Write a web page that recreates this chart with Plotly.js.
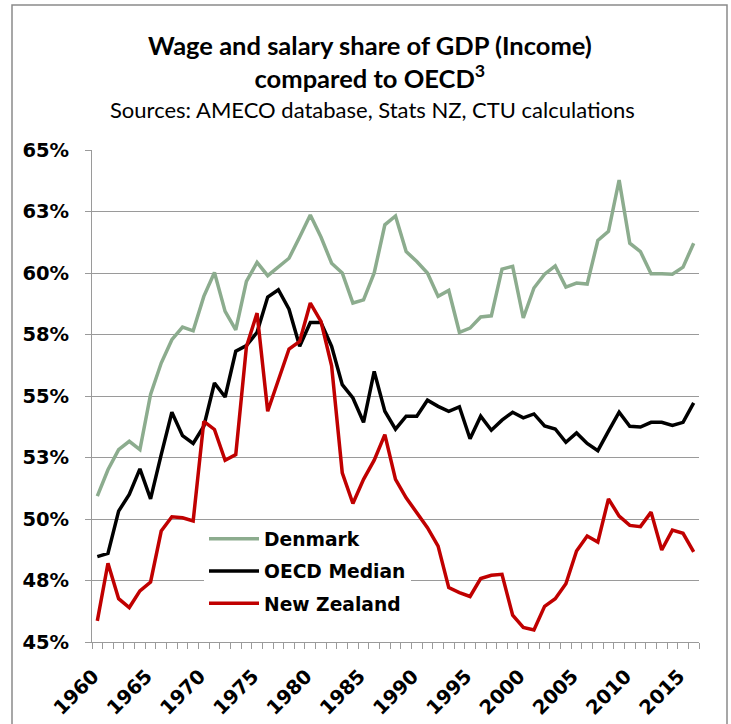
<!DOCTYPE html>
<html>
<head>
<meta charset="utf-8">
<script src="https://cdn.plot.ly/plotly-3.0.1.min.js"></script>
<style>html,body{margin:0;padding:0;background:#fff;}#chart{width:731px;height:724px;}</style>
</head>
<body>
<div id="chart"></div>
<script>
const years = [1960,1961,1962,1963,1964,1965,1966,1967,1968,1969,
  1970,1971,1972,1973,1974,1975,1976,1977,1978,1979,
  1980,1981,1982,1983,1984,1985,1986,1987,1988,1989,
  1990,1991,1992,1993,1994,1995,1996,1997,1998,1999,
  2000,2001,2002,2003,2004,2005,2006,2007,2008,2009,
  2010,2011,2012,2013,2014,2015,2016];

const denmark = [50.93,52.0,52.82,53.16,52.82,55.06,56.34,57.29,57.80,57.65,
  59.05,60.02,58.44,57.69,59.66,60.43,59.89,60.24,60.60,61.46,
  62.36,61.46,60.40,60.0,58.78,58.91,60.0,61.96,62.32,60.87,
  60.47,60.0,59.05,59.29,57.59,57.76,58.21,58.26,60.16,60.27,
  58.17,59.39,59.95,60.29,59.43,59.59,59.55,61.32,61.69,63.78,
  61.21,60.87,59.97,59.97,59.95,60.24,61.21];

const oecdMedian = [48.47,48.6,50.32,51.0,52.04,50.82,52.62,54.34,53.39,53.07,
  53.77,55.53,54.96,56.82,57.05,57.59,59.02,59.32,58.53,57.02,
  57.99,57.99,57.02,55.46,54.92,53.93,56.0,54.38,53.65,54.18,
  54.18,54.83,54.58,54.38,54.56,53.26,54.18,53.61,54.02,54.34,
  54.11,54.27,53.78,53.66,53.12,53.5,53.07,52.78,53.57,54.34,
  53.77,53.74,53.93,53.93,53.8,53.93,54.72];

const newZealand = [45.86,48.2,46.76,46.4,47.08,47.44,49.51,50.09,50.05,49.92,
  53.97,53.64,52.39,52.62,57.0,58.37,54.38,55.67,56.91,57.22,
  58.78,58.03,56.23,51.88,50.63,51.61,52.39,53.43,51.61,50.86,
  50.25,49.65,48.9,47.21,47.01,46.85,47.58,47.71,47.75,46.09,
  45.59,45.49,46.45,46.76,47.37,48.7,49.31,49.06,50.82,50.12,
  49.74,49.69,50.28,48.74,49.55,49.42,48.66];

const xTickLabels = [1960,1965,1970,1975,1980,1985,1990,1995,2000,2005,2010,2015];
const yTicks = [45,47.5,50,52.5,55,57.5,60,62.5,65];

const seriesNames = ['Denmark','OECD Median','New Zealand'];
const seriesColors = ['#8cac8e','#000000','#c00000'];
const seriesData = [denmark, oecdMedian, newZealand];

const traces = seriesData.map((vals,i) => ({
  type:'scatter', mode:'lines', x: years, y: vals, name: seriesNames[i],
  legendgroup: 'g' + i,
  line:{color: seriesColors[i], width:3.5}
}));

const xTickFont = {family:'"DejaVu Sans", sans-serif', size:19.5, color:'#000', weight:'bold'};
const yTickFont = {family:'"DejaVu Sans", sans-serif', size:19.5, color:'#000', weight:'bold'};
const gridCol = '#9a9a9a';

// pixel -> paper helpers (plot area: left 92, width 607, bottom 642, height 492)
const px = v => (v - 92) / 607;
const py = v => (642 - v) / 492;

const layout = {
  width:731, height:724,
  margin:{l:92, r:32, t:150, b:82},
  paper_bgcolor:'#fff', plot_bgcolor:'#fff',
  title:{
    text:'<b>Wage and salary share of GDP (Income)<br>compared to OECD<sup>3</sup></b>',
    font:{family:'Lato, sans-serif', size:25.5, color:'#000'},
    x:0.506, xanchor:'center', xref:'container',
    y:1-55/724, yanchor:'top', yref:'container'
  },
  annotations:[{
    text:'Sources: AMECO database, Stats NZ, CTU calculations',
    xref:'paper', yref:'paper', x:px(372), y:py(109),
    xanchor:'center', yanchor:'middle', showarrow:false,
    font:{family:'Lato, sans-serif', size:22, color:'#000'}
  }],
  xaxis:{
    type:'linear', range:[1959.5,2016.5], fixedrange:true,
    tickvals: xTickLabels, ticktext: xTickLabels.map(String),
    tickangle:-45, ticks:'', tickfont: xTickFont, ticklabelstandoff: 14, ticklabelshift: -4,
    showgrid:false, zeroline:false,
    showline:true, linecolor:gridCol, linewidth:1,
    minor:{tick0:1959.5, dtick:1, ticks:'outside', ticklen:6, tickcolor:gridCol, tickwidth:1, showgrid:false}
  },
  yaxis:{
    range:[45,65], tickvals: yTicks, ticktext: yTicks.map(v => v.toFixed(0) + '%'),
    ticks:'outside', ticklen:6, tickcolor:gridCol, tickwidth:1,
    tickfont: yTickFont, ticklabelstandoff: 12,
    showgrid:true, gridcolor:gridCol, gridwidth:1,
    zeroline:false, showline:true, linecolor:gridCol, linewidth:1
  },
  showlegend:true,
  legend:{
    x:px(204), y:py(520), xanchor:'left', yanchor:'top',
    bgcolor:'#fff', borderwidth:0,
    font:{family:'"DejaVu Sans", sans-serif', size:18.7, color:'#000', weight:'bold'},
    itemwidth:50, tracegroupgap:5
  },
  shapes:[{
    type:'rect', xref:'paper', yref:'paper',
    x0:px(12), x1:px(727), y0:py(740), y1:py(5),
    line:{color:'#8a8a8a', width:1.5}, fillcolor:'rgba(0,0,0,0)', layer:'below'
  },{
    type:'rect', xref:'paper', yref:'paper',
    x0:px(190), x1:px(423), y0:py(626), y1:py(522),
    line:{width:0}, fillcolor:'#ffffff', layer:'between'
  }]
};

Plotly.newPlot('chart', traces, layout, {displayModeBar:false, staticPlot:true});
</script>
</body>
</html>
